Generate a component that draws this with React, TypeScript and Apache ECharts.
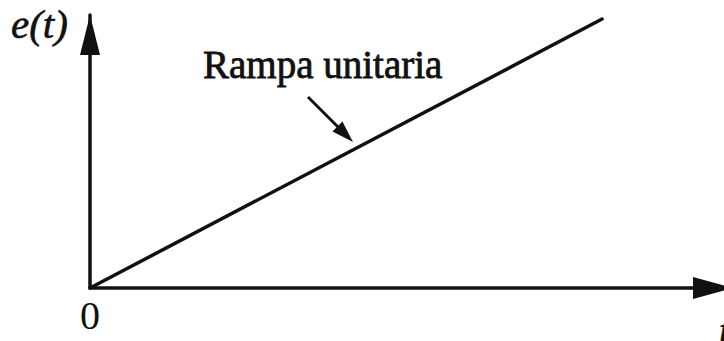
import React, { useEffect, useRef } from "react";
import * as echarts from "echarts";

// Unit ramp e(t) = t, sampled at its two end points
const timeValues: number[] = [0, 10];
const rampValues: number[] = [0, 10];
const originLabel = "0";
const annotationText = "Rampa unitaria";
const yAxisTitle = "e(t)";
const xAxisTitle = "t";

const INK = "#111111";
const SERIF = '"Liberation Serif", "Times New Roman", serif';

export default function App() {
  const ref = useRef<HTMLDivElement>(null);

  useEffect(() => {
    document.body.style.margin = "0";
    if (!ref.current) return;
    const chart = echarts.init(ref.current, null, { renderer: "svg" });

    chart.setOption({
      animation: false,
      backgroundColor: "#ffffff",
      grid: { left: 90, top: 15, right: 0, bottom: 53 },
      xAxis: {
        type: "value",
        min: 0,
        max: 12.38,
        splitLine: { show: false },
        axisTick: { show: false },
        axisLine: {
          onZero: false,
          symbol: ["none", "triangle"],
          symbolSize: [22, 40],
          symbolOffset: [0, -11],
          lineStyle: { color: INK, width: 3.5 },
        },
        axisLabel: {
          showMinLabel: true,
          showMaxLabel: false,
          margin: 7,
          color: INK,
          fontFamily: SERIF,
          fontSize: 40,
          formatter: (v: number) => (v === 0 ? originLabel : ""),
        },
      },
      yAxis: {
        type: "value",
        min: 0,
        max: 10.15,
        splitLine: { show: false },
        axisTick: { show: false },
        axisLabel: { show: false },
        axisLine: {
          onZero: false,
          symbol: ["none", "triangle"],
          symbolSize: [20, 40],
          symbolOffset: [0, -20],
          lineStyle: { color: INK, width: 3.5 },
        },
      },
      series: [
        {
          type: "line",
          data: timeValues.map((t, i) => [t, rampValues[i]]),
          showSymbol: false,
          symbol: "none",
          clip: false,
          lineStyle: { color: INK, width: 3.5, cap: "round" },
        },
      ],
      graphic: [
        {
          type: "text",
          x: 11,
          y: 24,
          style: {
            text: yAxisTitle,
            fill: INK,
            font: `italic 41px ${SERIF}`,
            align: "left",
            verticalAlign: "middle",
            stroke: INK,
            lineWidth: 0.6,
          },
        },
        {
          type: "text",
          x: 719,
          y: 330,
          style: {
            text: xAxisTitle,
            fill: INK,
            font: `italic 40px ${SERIF}`,
            align: "left",
            verticalAlign: "middle",
            stroke: INK,
            lineWidth: 0.6,
          },
        },
        {
          type: "text",
          x: 203,
          y: 64,
          style: {
            text: annotationText,
            fill: INK,
            font: `39px ${SERIF}`,
            align: "left",
            verticalAlign: "middle",
            stroke: INK,
            lineWidth: 0.8,
          },
        },
        {
          type: "line",
          shape: { x1: 308, y1: 97, x2: 338, y2: 127 },
          style: { stroke: INK, lineWidth: 3 },
        },
        {
          type: "polygon",
          shape: {
            points: [
              [353, 142],
              [332.5, 131.4],
              [342.4, 121.5],
            ],
          },
          style: { fill: INK },
        },
      ],
    });

    return () => chart.dispose();
  }, []);

  return <div ref={ref} style={{ width: 724, height: 341 }} />;
}
